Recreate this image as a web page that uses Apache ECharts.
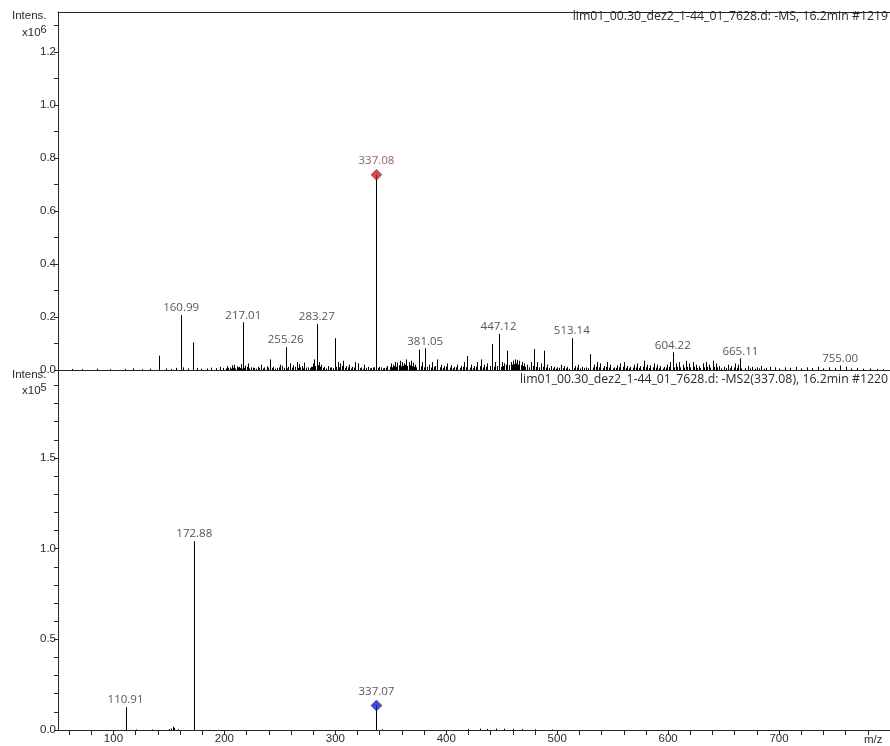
<!DOCTYPE html>
<html>
<head>
<meta charset="utf-8">
<script src="https://cdn.jsdelivr.net/npm/echarts@6/dist/echarts.min.js"></script>
<style>html,body{margin:0;padding:0;background:#fff;}#c{width:890px;height:746px;}</style>
</head>
<body>
<div id="c"></div>
<script>
// ---------- DATA ----------
// Top panel (MS), intensity in x10^6
const topLabeledMz  = [160.99, 217.01, 255.26, 283.27, 381.05, 447.12, 513.14, 604.22, 665.11, 755.00];
const topLabeledInt = [0.207, 0.180, 0.086, 0.174, 0.082, 0.136, 0.120, 0.067, 0.044, 0.017];
const topPrecursorMz = 337.08;
const topPrecursorInt = 0.736;
const topNoise = [
 [63,0.004],[72,0.003],[85,0.005],[97,0.003],[110,0.004],[118,0.006],[126,0.003],[133,0.005],[140.7,0.054],[147,0.006],
 [152,0.004],[156,0.008],[163,0.010],[167,0.006],[171.7,0.104],[175,0.008],[179,0.005],[184,0.006],[188,0.009],[192,0.007],
 [196,0.012],[199,0.008],[202,0.015],[205,0.010],[207,0.018],[209,0.020],[211,0.014],[213,0.012],[215,0.022],[219,0.016],
 [221,0.025],[224,0.010],[227,0.008],[230,0.012],[233,0.020],[236,0.010],[238,0.014],[241,0.040],[244,0.012],[247,0.008],
 [250,0.020],[252,0.016],[257,0.012],[259,0.025],[262,0.018],[265,0.030],[267,0.022],[270,0.015],[272,0.028],[275,0.010],
 [278,0.012],[280,0.025],[281,0.040],[285,0.030],[287,0.020],[290,0.012],[293,0.015],[296,0.010],[299.5,0.120],[302,0.030],
 [304,0.025],[307,0.035],[310,0.015],[312,0.020],[315,0.012],[318,0.030],[320,0.025],[323,0.010],[326,0.020],[329,0.012],
 [332,0.008],[335,0.010],[339,0.012],[341,0.010],[344,0.008],[347,0.015],[350,0.025],[352,0.020],[354,0.030],[356,0.028],
 [358,0.035],[360,0.030],[362,0.025],[364,0.040],[366,0.030],[368,0.035],[370,0.028],[372,0.020],[375.6,0.077],[378,0.030],
 [384,0.020],[387,0.030],[390,0.015],[392,0.040],[395,0.020],[398,0.015],[401,0.025],[404,0.018],[407,0.012],[410,0.020],
 [413,0.015],[416,0.030],[419,0.053],[422,0.020],[425,0.015],[428,0.030],[431,0.040],[434,0.020],[437,0.025],[441,0.098],
 [444,0.030],[450,0.030],[452,0.025],[455,0.073],[458,0.030],[460,0.035],[462,0.040],[464,0.038],[466,0.035],[468,0.030],
 [470,0.025],[473,0.020],[476,0.030],[479.5,0.079],[482,0.030],[485,0.025],[488.5,0.073],[491,0.020],[494,0.015],[497,0.012],
 [500,0.010],[503,0.020],[506,0.015],[509,0.012],[516,0.015],[519,0.020],[522,0.012],[526,0.010],[530,0.060],[533,0.020],
 [536,0.030],[539,0.025],[542,0.015],[545,0.030],[548,0.020],[551,0.010],[554,0.018],[557,0.025],[560,0.030],[563,0.015],
 [566,0.012],[569,0.020],[572,0.025],[575,0.015],[578,0.035],[581,0.020],[584,0.018],[587,0.025],[590,0.020],[593,0.015],
 [596,0.012],[599,0.020],[602,0.030],[607,0.025],[610,0.030],[613,0.020],[616,0.035],[619,0.025],[622,0.030],[625,0.020],
 [628,0.015],[631,0.025],[634,0.030],[637,0.020],[640,0.035],[643,0.025],[646,0.015],[650,0.012],[654,0.020],[657,0.015],
 [660,0.025],[663,0.020],[672,0.015],[676,0.012],[680,0.010],[684,0.015],[688,0.008],[692,0.012],[696,0.010],[700,0.006],
 [705,0.010],[710,0.008],[715,0.012],[720,0.006],[725,0.010],[730,0.008],[735,0.012],[740,0.006],[745,0.010],[750,0.008],
 [760,0.012],[765,0.006],[770,0.008],[776,0.005],[782,0.006],[788,0.004],[794,0.003]
];
// dense low-level baseline peaks of the top spectrum
const topBaseline = [
 [201,0.006],[203.5,0.008],[206,0.005],[208,0.009],[210,0.006],[212,0.010],[214,0.007],[216,0.005],[218,0.008],[220,0.012],
 [222.5,0.006],[226,0.009],[228.5,0.005],[231.5,0.008],[234.5,0.006],[239.5,0.009],[243,0.007],[246,0.005],[249,0.010],[254,0.008],
 [256.5,0.006],[261,0.009],[263.5,0.012],[266,0.008],[268.5,0.010],[271,0.006],[274,0.009],[277,0.007],[279,0.012],[282,0.015],
 [284,0.018],[286,0.012],[289,0.008],[292,0.006],[295,0.009],[298,0.007],[301,0.012],[303,0.010],[306,0.015],[309,0.008],
 [311,0.010],[314,0.006],[317,0.009],[322,0.007],[325,0.005],[328,0.008],[331,0.006],[334,0.010],[338.5,0.008],[343,0.006],
 [346,0.009],[349,0.012],[351,0.010],[353,0.015],[355,0.012],[357,0.018],[359,0.014],[361,0.016],[363,0.020],[365,0.015],
 [367,0.018],[369,0.014],[371,0.012],[373,0.010],[377,0.014],[380,0.010],[383,0.012],[386,0.009],[389,0.012],[394,0.010],
 [397,0.008],[400,0.012],[403,0.009],[406,0.007],[409,0.010],[412,0.008],[415,0.012],[418,0.010],[421,0.009],[424,0.007],
 [427,0.012],[430,0.015],[433,0.010],[436,0.012],[439,0.015],[443,0.012],[446,0.015],[449,0.012],[451,0.015],[454,0.020],
 [457,0.018],[459,0.020],[461,0.022],[463,0.025],[465,0.020],[467,0.018],[469,0.015],[471,0.012],[475,0.010],[478,0.015],
 [481,0.012],[484,0.010],[487,0.012],[490,0.009],[493,0.008],[496,0.006],[499,0.005],[502,0.008],[505,0.007],[508,0.006],
 [511,0.005],[515,0.007],[518,0.009],[521,0.006],[524,0.008],[528,0.007],[532,0.010],[535,0.012],[538,0.010],[541,0.008],
 [544,0.012],[547,0.009],[550,0.006],[553,0.008],[556,0.010],[559,0.012],[562,0.008],[565,0.006],[568,0.009],[571,0.010],
 [574,0.008],[577,0.012],[580,0.010],[583,0.008],[586,0.010],[589,0.009],[592,0.007],[595,0.006],[598,0.009],[601,0.012],
 [605,0.010],[608,0.012],[611,0.010],[614,0.009],[617,0.012],[620,0.010],[623,0.012],[626,0.008],[629,0.007],[632,0.010],
 [635,0.012],[638,0.009],[641,0.012],[644,0.010],[648,0.006],[652,0.008],[656,0.007],[659,0.009],[662,0.008],[666,0.006],
 [669,0.008],[674,0.006],[678,0.005],[682,0.006],[686,0.005]
];
// Bottom panel (MS2 of 337.08), intensity in x10^5
const botLabeledMz  = [110.91, 172.88];
const botLabeledInt = [0.126, 1.041];
const botPrecursorMz = 337.07;
const botPrecursorInt = 0.135;
const botNoise = [
 [120,0.003],[135,0.003],[150,0.005],[152,0.008],[154,0.018],[155,0.012],[158,0.004],[342,0.004],
 [420,0.005],[430,0.008],[437,0.006],[445,0.008],[452,0.007],[460,0.006],[468,0.005],[480,0.004],[495,0.003]
];
// Axis ticks / labels
const xTickValues  = [60,80,100,120,140,160,180,200,220,240,260,280,300,320,340,360,380,400,420,440,460,480,500,520,540,560,580,600,620,640,660,680,700,720,740,760,780];
const xLabelValues = [100,200,300,400,500,600,700];
const yTopTicks  = [0,0.1,0.2,0.3,0.4,0.5,0.6,0.7,0.8,0.9,1.0,1.1,1.2,1.3];
const yTopLabels = [0,0.2,0.4,0.6,0.8,1.0,1.2];
const yBotTicks  = [0,0.1,0.2,0.3,0.4,0.5,0.6,0.7,0.8,0.9,1.0,1.1,1.2,1.3,1.4,1.5,1.6,1.7,1.8,1.9];
const yBotLabels = [0,0.5,1.0,1.5];
const topTitle = 'lim01_00.30_dez2_1-44_01_7628.d: -MS, 16.2min #1219';
const botTitle = 'lim01_00.30_dez2_1-44_01_7628.d: -MS2(337.08), 16.2min #1220';

// ---------- BUILD ----------
const AX = '#262626';
const TXT = '#2a2a2a';
const FONT = 'Liberation Sans';
const LFONT = 'Open Sans';
const topSticks = topBaseline.concat(topNoise).concat(topLabeledMz.map((m,i)=>[m, topLabeledInt[i]])).concat([[topPrecursorMz, topPrecursorInt]]);
const botSticks = botNoise.concat(botLabeledMz.map((m,i)=>[m, botLabeledInt[i]])).concat([[botPrecursorMz, botPrecursorInt]]);

function stick(params, api){
  const p0 = api.coord([api.value(0), 0]);
  const p1 = api.coord([api.value(0), api.value(1)]);
  const x = Math.round(p0[0]) + 0.5;
  return {type:'line', shape:{x1:x, y1:p0[1], x2:x, y2:p1[1]}, style:{stroke:'#000', lineWidth:1}};
}
const peakLabel = {show:true, position:'top', distance:1, fontFamily:LFONT, fontSize:11.5, color:TXT,
  formatter: p => p.value[0].toFixed(2)};

function yAxisCfg(grid, max, ticks, labels){
  return {type:'value', gridIndex:grid, min:0, max:max,
    axisLine:{show:true, lineStyle:{color:AX, width:1}},
    axisTick:{show:true, customValues:ticks, length:4, lineStyle:{color:AX}},
    axisLabel:{customValues:labels, formatter:v=>v.toFixed(1), fontFamily:FONT, fontSize:11.5, color:TXT, margin:2},
    splitLine:{show:false}};
}

const option = {
  animation:false,
  backgroundColor:'#fff',
  grid:[
    {left:58, right:0, top:12, height:358},
    {left:58, right:0, top:370, bottom:16}
  ],
  xAxis:[
    {type:'value', gridIndex:0, min:50, max:800, position:'bottom',
     axisLine:{show:true, onZero:false, lineStyle:{color:AX}}, axisTick:{show:false}, axisLabel:{show:false}, splitLine:{show:false}},
    {type:'value', gridIndex:0, min:50, max:800, position:'top',
     axisLine:{show:true, onZero:false, lineStyle:{color:AX}}, axisTick:{show:false}, axisLabel:{show:false}, splitLine:{show:false}},
    {type:'value', gridIndex:1, min:50, max:800, position:'bottom',
     axisLine:{show:true, onZero:false, lineStyle:{color:AX}},
     axisTick:{show:true, customValues:xTickValues, length:5, inside:false, lineStyle:{color:AX}},
     axisLabel:{customValues:xLabelValues, fontFamily:FONT, fontSize:11.5, color:TXT, margin:3},
     splitLine:{show:false}}
  ],
  yAxis:[
    yAxisCfg(0, 1.35, yTopTicks, yTopLabels),
    yAxisCfg(1, 1.985, yBotTicks, yBotLabels)
  ],
  series:[
    {type:'custom', xAxisIndex:0, yAxisIndex:0, renderItem:stick, data:topSticks, z:2, clip:true},
    {type:'custom', xAxisIndex:2, yAxisIndex:1, renderItem:stick, data:botSticks, z:2, clip:true},
    {type:'scatter', xAxisIndex:0, yAxisIndex:0, symbolSize:0, z:3,
     data: topLabeledMz.map((m,i)=>[m, topLabeledInt[i]]), label:peakLabel},
    {type:'scatter', xAxisIndex:2, yAxisIndex:1, symbolSize:0, z:3,
     data: botLabeledMz.map((m,i)=>[m, botLabeledInt[i]]), label:peakLabel},
    {type:'scatter', xAxisIndex:0, yAxisIndex:0, symbol:'diamond', symbolSize:[11,11], z:4,
     itemStyle:{color:'#cc1a22', borderColor:'#8a1010', borderWidth:0.5},
     data:[[topPrecursorMz, topPrecursorInt]],
     label:Object.assign({}, peakLabel, {distance:2, color:'#8a3040'})},
    {type:'scatter', xAxisIndex:2, yAxisIndex:1, symbol:'diamond', symbolSize:[11,11], z:4,
     itemStyle:{color:'#1020c8', borderColor:'#0a1070', borderWidth:0.5},
     data:[[botPrecursorMz, botPrecursorInt]],
     label:Object.assign({}, peakLabel, {distance:2})}
  ],
  graphic:[
    {type:'text', right:2, top:10, style:{text:topTitle, font:'12.3px "Open Sans"', fill:TXT}},
    {type:'text', right:2, top:373, style:{text:botTitle, font:'12.3px "Open Sans"', fill:TXT}},
    {type:'text', left:12, top:10, style:{text:'Intens.', font:'11.5px "Liberation Sans"', fill:TXT}},
    {type:'text', left:22, top:24, style:{text:'x10{s|6}', font:'11.5px "Liberation Sans"', fill:TXT, rich:{s:{fontSize:11, fontFamily:FONT, verticalAlign:'top', padding:[0,0,6,0], color:TXT}}}},
    {type:'text', left:12, top:369, style:{text:'Intens.', font:'11.5px "Liberation Sans"', fill:TXT}},
    {type:'text', left:22, top:382, style:{text:'x10{s|5}', font:'11.5px "Liberation Sans"', fill:TXT, rich:{s:{fontSize:11, fontFamily:FONT, verticalAlign:'top', padding:[0,0,6,0], color:TXT}}}},
    {type:'text', left:864, top:734, style:{text:'m/z', font:'11.5px "Liberation Sans"', fill:TXT}}
  ]
};
const chart = echarts.init(document.getElementById('c'), null, {renderer:'canvas'});
chart.setOption(option);
</script>
</body>
</html>
